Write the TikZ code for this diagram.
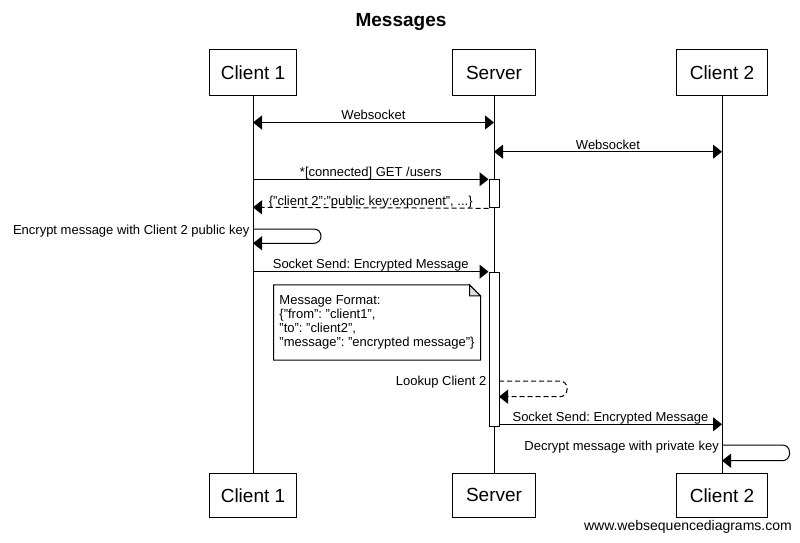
\documentclass[tikz,border=0pt]{standalone}
\usepackage{fontspec}
\setmainfont{Liberation Sans}
\usetikzlibrary{arrows.meta}
\frenchspacing
\begin{document}
\begin{tikzpicture}[x=1pt,y=-1pt,
  partbox/.style={draw, line width=1pt, fill=white, inner sep=0pt, minimum height=46pt, font=\fontsize{19}{22}\selectfont},
  msgfont/.style={font=\fontsize{13}{15}\selectfont},
  msgline/.style={draw, line width=1pt, -{Triangle[length=9pt,width=14pt]}},
  dmsgline/.style={msgline, dash pattern=on 5pt off 3pt},
  bimsgline/.style={draw, line width=1pt, {Triangle[length=9pt,width=14pt]}-{Triangle[length=9pt,width=14pt]}},
  lbl/.style={msgfont, anchor=base, inner sep=0pt, yshift=2.7pt},
  selflbl/.style={msgfont, anchor=base east, inner sep=0pt},
  lifeline/.style={draw, line width=1pt},
  actbox/.style={draw, fill=white, line width=1pt, minimum width=10pt, inner sep=0pt},
  notebox/.style={minimum width=206.6pt, minimum height=75pt, inner sep=0pt, align=left, font=\fontsize{13}{14.2}\selectfont},
]
\useasboundingbox (0,0) rectangle (800,542);
\fill[white] (0,0) rectangle (800,542);

% title
\node[font=\bfseries\fontsize{19}{22}\selectfont, anchor=base, inner sep=0pt] (title) at (401,26.7) {Messages};

% participants
\node[partbox, minimum width=87.4pt] (c1top) at (253,72.8) {Client 1};
\node[partbox, minimum width=83.4pt] (svtop) at (494,72.8) {Server};
\node[partbox, minimum width=90.7pt] (c2top) at (722,72.8) {Client 2};
\node[partbox, minimum width=87.4pt, minimum height=44pt] (c1bot) at (253,495.3) {Client 1};
\node[partbox, minimum width=83.4pt, minimum height=44pt] (svbot) at (494,495.3) {Server};
\node[partbox, minimum width=90.7pt, minimum height=44pt] (c2bot) at (722,495.3) {Client 2};

% lifelines
\draw[lifeline] (c1top) -- (c1bot);
\draw[lifeline] (svtop) -- (svbot);
\draw[lifeline] (c2top) -- (c2bot);

% activation boxes
\node[actbox, minimum height=28pt, anchor=north] (act1) at (494,179.3) {};
\node[actbox, minimum height=154pt, anchor=north] (act2) at (494,271.7) {};

% Websocket 1
\coordinate (ws1a) at (253,122.5);
\coordinate (ws1b) at (494,122.5);
\draw[bimsgline] (ws1a) -- node[lbl] (ws1l) {Websocket} (ws1b);

% Websocket 2
\coordinate (ws2a) at (494,151.7);
\coordinate (ws2b) at (722,151.7);
\draw[bimsgline] (ws2a) -- node[lbl] (ws2l) {Websocket} (ws2b);

% GET /users
\coordinate (geta) at (253,179.3);
\draw[msgline] (geta) -- node[lbl, yshift=0.3pt] (getl) {*[connected] GET /users} (act1.north west);

% return
\coordinate (reta) at (253,207.3);
\draw[dmsgline] (act1.south west) -- node[lbl] (retl) {\{"client 2":"public key:exponent", ...\}} (reta);

% Encrypt self message
\coordinate (enca) at (253,229);
\coordinate (encb) at (253,243.3);
\draw[msgline, rounded corners=7pt] (enca) -- (321,229) -- (321,243.3) -- (encb);
\node[selflbl] (encl) at (249.5,234) {Encrypt message with Client 2 public key};

% Socket send 1
\coordinate (ss1a) at (253,271.7);
\draw[msgline] (ss1a) -- node[lbl, yshift=0.8pt] (ss1l) {Socket Send: Encrypted Message} (act2.north west);

% Note
\node[notebox] (note) at (377,322.5) {Message Format:\\\{"from": "client1",\\"to": "client2",\\"message": "encrypted message"\}};
\draw[line width=1pt] (note.north west) -- ([xshift=-11pt]note.north east) -- ([yshift=-11pt]note.north east) -- (note.south east) -- (note.south west) -- cycle;
\draw[line width=1pt, fill=gray!25] ([xshift=-11pt]note.north east) -- ([xshift=-11pt,yshift=-11pt]note.north east) -- ([yshift=-11pt]note.north east) -- cycle;

% Lookup self message
\coordinate (lka) at (499,381);
\coordinate (lkb) at (499,396.7);
\draw[dmsgline, rounded corners=7pt] (lka) -- (567,381) -- (567,396.7) -- (lkb);
\node[selflbl] (lkl) at (486.5,385.7) {Lookup Client 2};

% Socket send 2
\coordinate (ss2a) at (499,424.3);
\coordinate (ss2b) at (722,424.3);
\draw[msgline] (ss2a) -- node[lbl] (ss2l) {Socket Send: Encrypted Message} (ss2b);

% Decrypt self message
\coordinate (dca) at (722,445);
\coordinate (dcb) at (722,460.7);
\draw[msgline, rounded corners=7pt] (dca) -- (789.5,445) -- (789.5,460.7) -- (dcb);
\node[selflbl] (dcl) at (719,450) {Decrypt message with private key};

% footer
\node[font=\fontsize{14}{16}\selectfont, anchor=base east, inner sep=0pt] (footer) at (792,530) {www.websequencediagrams.com};
\end{tikzpicture}
\end{document}
